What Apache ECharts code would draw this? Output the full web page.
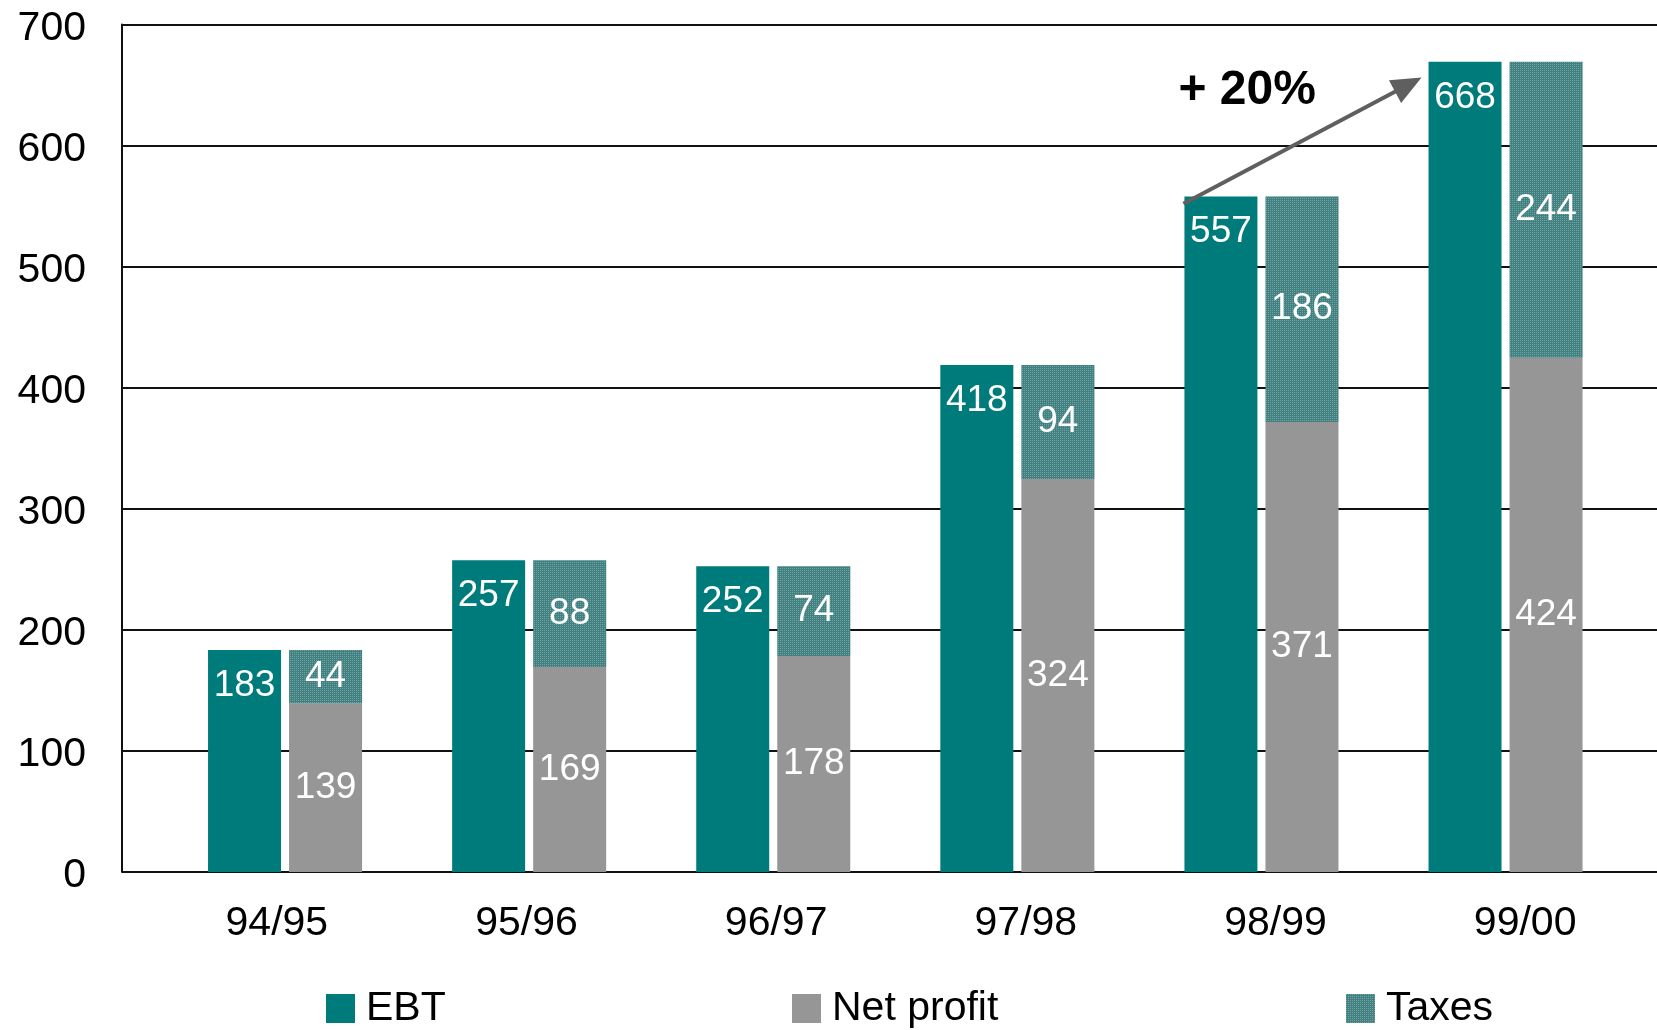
<!DOCTYPE html>
<html>
<head>
<meta charset="utf-8">
<script src="https://cdn.jsdelivr.net/npm/echarts@6/dist/echarts.min.js"></script>
<style>
html,body{margin:0;padding:0;background:#fff;}
#c{width:1657px;height:1030px;}
</style>
</head>
<body>
<div id="c"></div>
<script>
const categories = ['94/95','95/96','96/97','97/98','98/99','99/00'];
const ebt = [183, 257, 252, 418, 557, 668];
const netProfit = [139, 169, 178, 324, 371, 424];
const taxes = [44, 88, 74, 94, 186, 244];
const yTicks = [0, 100, 200, 300, 400, 500, 600, 700];
const growthLabel = '+ 20%';

const FONT = 'Arial, "Liberation Sans", Helvetica, sans-serif';
const TEAL = '#007b7b';
const GREY = '#969696';
const TAX = '#3a8584';

const chart = echarts.init(document.getElementById('c'), null, {renderer: 'canvas'});

const yMin = yTicks[0], yMax = yTicks[yTicks.length - 1], yStep = yTicks[1] - yTicks[0];
const gridTop = 23, gridBottom = 158;

const barLabel = {
  show: true, color: '#fff', fontSize: 37, fontFamily: FONT, lineHeight: 37
};

const taxDecal = {
  symbol: 'rect', symbolSize: 1, color: 'rgba(160,160,160,0.75)',
  dashArrayX: [1, 1], dashArrayY: [1, 1], rotation: 0
};

const legendText = {fontSize: 41, fontFamily: FONT, color: '#000', padding: [0, 0, 0, 6]};

const option = {
  animation: false,
  backgroundColor: '#fff',
  grid: [
    {left: 122, right: 0, top: gridTop, bottom: gridBottom},
    {left: 163, right: 29.4, top: gridTop, bottom: gridBottom},
    {left: 152, right: 7, top: gridTop, bottom: gridBottom}
  ],
  xAxis: [
    {gridIndex: 0, type: 'value', min: 0, max: 1, show: false},
    {gridIndex: 1, type: 'category', data: categories, axisLine: {show: false}, axisTick: {show: false}, axisLabel: {show: false}, splitLine: {show: false}},
    {gridIndex: 2, type: 'category', data: categories, axisLine: {show: false}, axisTick: {show: false},
      axisLabel: {color: '#000', fontSize: 41, fontFamily: FONT, margin: 31}, splitLine: {show: false}}
  ],
  yAxis: [
    {gridIndex: 0, type: 'value', min: yMin, max: yMax, interval: yStep,
      axisLine: {show: true, lineStyle: {color: '#111', width: 2}},
      axisTick: {show: false},
      axisLabel: {
        margin: 36,
        formatter: function (v) { return '{t|' + v + '}'; },
        rich: {t: {color: '#000', fontSize: 41, fontFamily: FONT, lineHeight: 41, padding: [8, 0, 0, 0]}}
      },
      splitLine: {show: true, lineStyle: {color: '#111', width: 2}}},
    {gridIndex: 1, type: 'value', min: yMin, max: yMax, interval: yStep, show: false, splitLine: {show: false}},
    {gridIndex: 2, type: 'value', min: yMin, max: yMax, interval: yStep, show: false, splitLine: {show: false}}
  ],
  legend: [
    {left: 321, top: 983, itemWidth: 29, itemHeight: 29, icon: 'rect', data: ['EBT'], textStyle: legendText},
    {left: 787, top: 983, itemWidth: 29, itemHeight: 29, icon: 'rect', data: ['Net profit'], textStyle: legendText},
    {left: 1341, top: 983, itemWidth: 29, itemHeight: 29, icon: 'rect', data: ['Taxes'], textStyle: legendText}
  ],
  series: [
    {name: 'EBT', type: 'bar', xAxisIndex: 1, yAxisIndex: 1, stack: 'ebt', data: ebt,
      barWidth: 73, barGap: '11%', itemStyle: {color: TEAL},
      label: Object.assign({position: 'insideTop', distance: 17}, barLabel)},
    {name: 'Net profit', type: 'bar', xAxisIndex: 1, yAxisIndex: 1, stack: 'np', data: netProfit,
      barWidth: 73, barGap: '11%', itemStyle: {color: GREY},
      label: Object.assign({position: 'inside'}, barLabel)},
    {name: 'Taxes', type: 'bar', xAxisIndex: 1, yAxisIndex: 1, stack: 'np', data: taxes,
      barWidth: 73, barGap: '11%', itemStyle: {color: TAX, decal: taxDecal},
      label: Object.assign({position: 'inside'}, barLabel)}
  ]
};

chart.setOption(option);

// Growth arrow from the 98/99 EBT bar top to the 99/00 EBT bar
const last = categories.length - 1;
const p1 = chart.convertToPixel({xAxisIndex: 1, yAxisIndex: 1}, [last - 1, ebt[last - 1] - 6]);
const p2 = chart.convertToPixel({xAxisIndex: 1, yAxisIndex: 1}, [last, ebt[last] - 13]);
const x1 = p1[0] - 78, y1 = p1[1];
const x2 = p2[0] - 84, y2 = p2[1];
const dx = x2 - x1, dy = y2 - y1, len = Math.sqrt(dx * dx + dy * dy);
const ux = dx / len, uy = dy / len, nx = -uy, ny = ux;
const HL = 30, HW = 13;
const bx = x2 - ux * HL, by = y2 - uy * HL;
const txtPos = chart.convertToPixel({xAxisIndex: 1, yAxisIndex: 1}, [last - 1, 644]);

chart.setOption({
  graphic: [
    {type: 'line', shape: {x1: x1, y1: y1, x2: bx + ux * 2, y2: by + uy * 2},
      style: {stroke: '#5f5f5f', lineWidth: 4}, z: 100},
    {type: 'polygon', shape: {points: [[x2, y2], [bx + nx * HW, by + ny * HW], [bx - nx * HW, by - ny * HW]]},
      style: {fill: '#5f5f5f'}, z: 100},
    {type: 'text', x: x1 - 5, y: txtPos[1],
      style: {text: growthLabel, font: 'bold 48px ' + FONT, fill: '#000', textAlign: 'left', textVerticalAlign: 'middle'}, z: 100}
  ]
});
</script>
</body>
</html>
